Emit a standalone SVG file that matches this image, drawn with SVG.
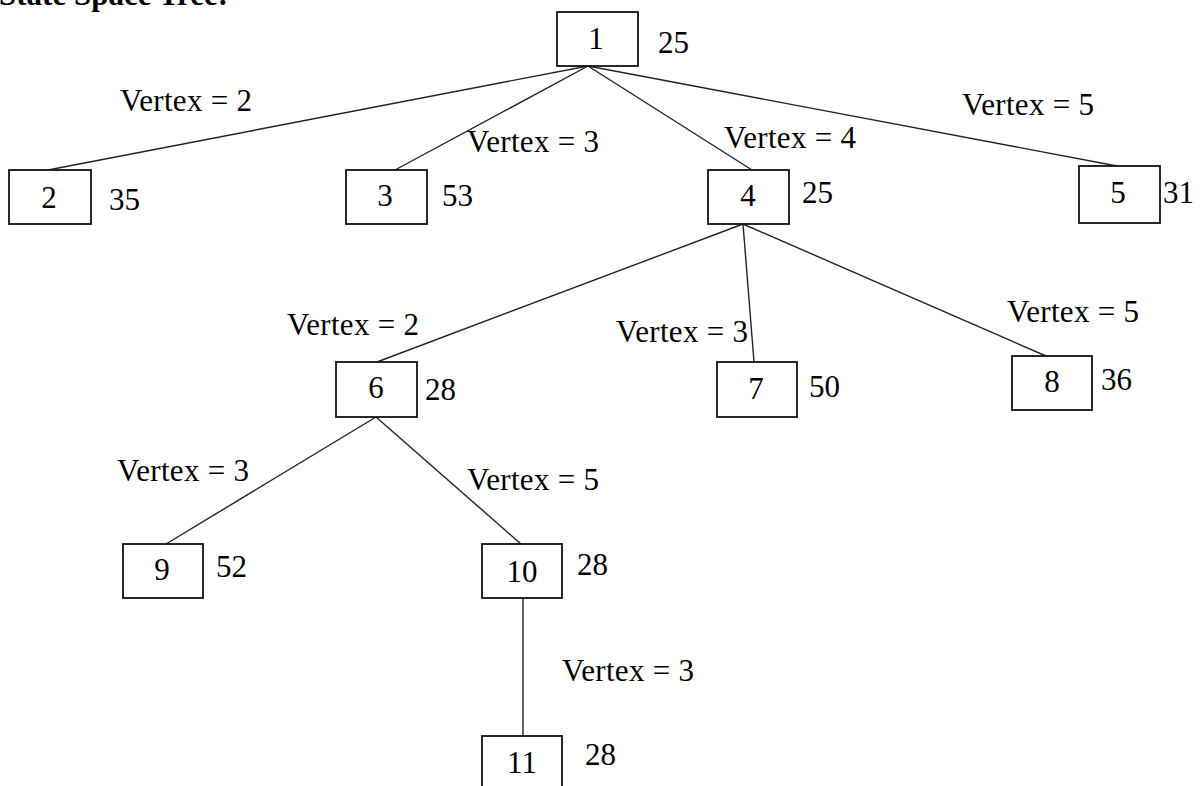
<svg xmlns="http://www.w3.org/2000/svg" width="1204" height="786" viewBox="0 0 1204 786">
<style>
  .box { fill: #fff; stroke: #111; stroke-width: 1.8; }
  .t { font-family: "Liberation Serif", "Times New Roman", serif; font-size: 31px; fill: #000; }
  .v { font-family: "Liberation Serif", "Times New Roman", serif; font-size: 31px; fill: #000; letter-spacing: 0.3px; }
  .c { text-anchor: middle; }
  .title { font-family: "Liberation Serif", "Times New Roman", serif; font-size: 31px; font-weight: bold; fill: #000; }
  .edge { stroke: #222; stroke-width: 1.4; fill: none; }
</style>
<rect width="1204" height="786" fill="#fff"/>
<text class="title" x="-1" y="5">State Space Tree:</text>

<g id="connectors">
  <line class="edge" x1="588" y1="66" x2="48" y2="170"/>
  <line class="edge" x1="588" y1="66" x2="395" y2="170"/>
  <line class="edge" x1="588" y1="66" x2="752" y2="170"/>
  <line class="edge" x1="588" y1="66" x2="1117" y2="166"/>
  <line class="edge" x1="743" y1="224" x2="377" y2="362"/>
  <line class="edge" x1="743" y1="224" x2="754" y2="362"/>
  <line class="edge" x1="743" y1="224" x2="1046" y2="356"/>
  <line class="edge" x1="376" y1="417" x2="166" y2="544"/>
  <line class="edge" x1="376" y1="417" x2="521" y2="544"/>
  <line class="edge" x1="523" y1="598" x2="523" y2="736"/>
  <text class="v" x="120" y="111">Vertex = 2</text>
  <text class="v" x="467" y="152">Vertex = 3</text>
  <text class="v" x="724" y="148">Vertex = 4</text>
  <text class="v" x="962" y="115">Vertex = 5</text>
  <text class="v" x="287" y="335">Vertex = 2</text>
  <text class="v" x="616" y="342">Vertex = 3</text>
  <text class="v" x="1007" y="322">Vertex = 5</text>
  <text class="v" x="117" y="481">Vertex = 3</text>
  <text class="v" x="467" y="490">Vertex = 5</text>
  <text class="v" x="562" y="681">Vertex = 3</text>
</g>

<g id="n1">
  <rect class="box" x="557" y="12" width="81" height="54"/>
  <text class="t c" x="596" y="49">1</text>
  <text class="t" x="658" y="53">25</text>
</g>
<g id="n2">
  <rect class="box" x="9" y="170" width="82" height="54"/>
  <text class="t c" x="49" y="208">2</text>
  <text class="t" x="109" y="210">35</text>
</g>
<g id="n3">
  <rect class="box" x="346" y="170" width="81" height="54"/>
  <text class="t c" x="385" y="206">3</text>
  <text class="t" x="442" y="206">53</text>
</g>
<g id="n4">
  <rect class="box" x="708" y="170" width="81" height="54"/>
  <text class="t c" x="748" y="206">4</text>
  <text class="t" x="802" y="203">25</text>
</g>
<g id="n5">
  <rect class="box" x="1079" y="166" width="81" height="57"/>
  <text class="t c" x="1118" y="203">5</text>
  <text class="t" x="1163" y="203">31</text>
</g>
<g id="n6">
  <rect class="box" x="336" y="362" width="81" height="55"/>
  <text class="t c" x="376" y="398">6</text>
  <text class="t" x="425" y="400">28</text>
</g>
<g id="n7">
  <rect class="box" x="717" y="362" width="80" height="55"/>
  <text class="t c" x="756" y="399">7</text>
  <text class="t" x="809" y="397">50</text>
</g>
<g id="n8">
  <rect class="box" x="1012" y="356" width="80" height="54"/>
  <text class="t c" x="1052" y="392">8</text>
  <text class="t" x="1101" y="390">36</text>
</g>
<g id="n9">
  <rect class="box" x="123" y="544" width="80" height="54"/>
  <text class="t c" x="162" y="580">9</text>
  <text class="t" x="216" y="577">52</text>
</g>
<g id="n10">
  <rect class="box" x="482" y="544" width="80" height="54"/>
  <text class="t c" x="522" y="582">10</text>
  <text class="t" x="577" y="575">28</text>
</g>
<g id="n11">
  <rect class="box" x="482" y="736" width="80" height="54"/>
  <text class="t c" x="522" y="773">11</text>
  <text class="t" x="585" y="765">28</text>
</g>
</svg>
